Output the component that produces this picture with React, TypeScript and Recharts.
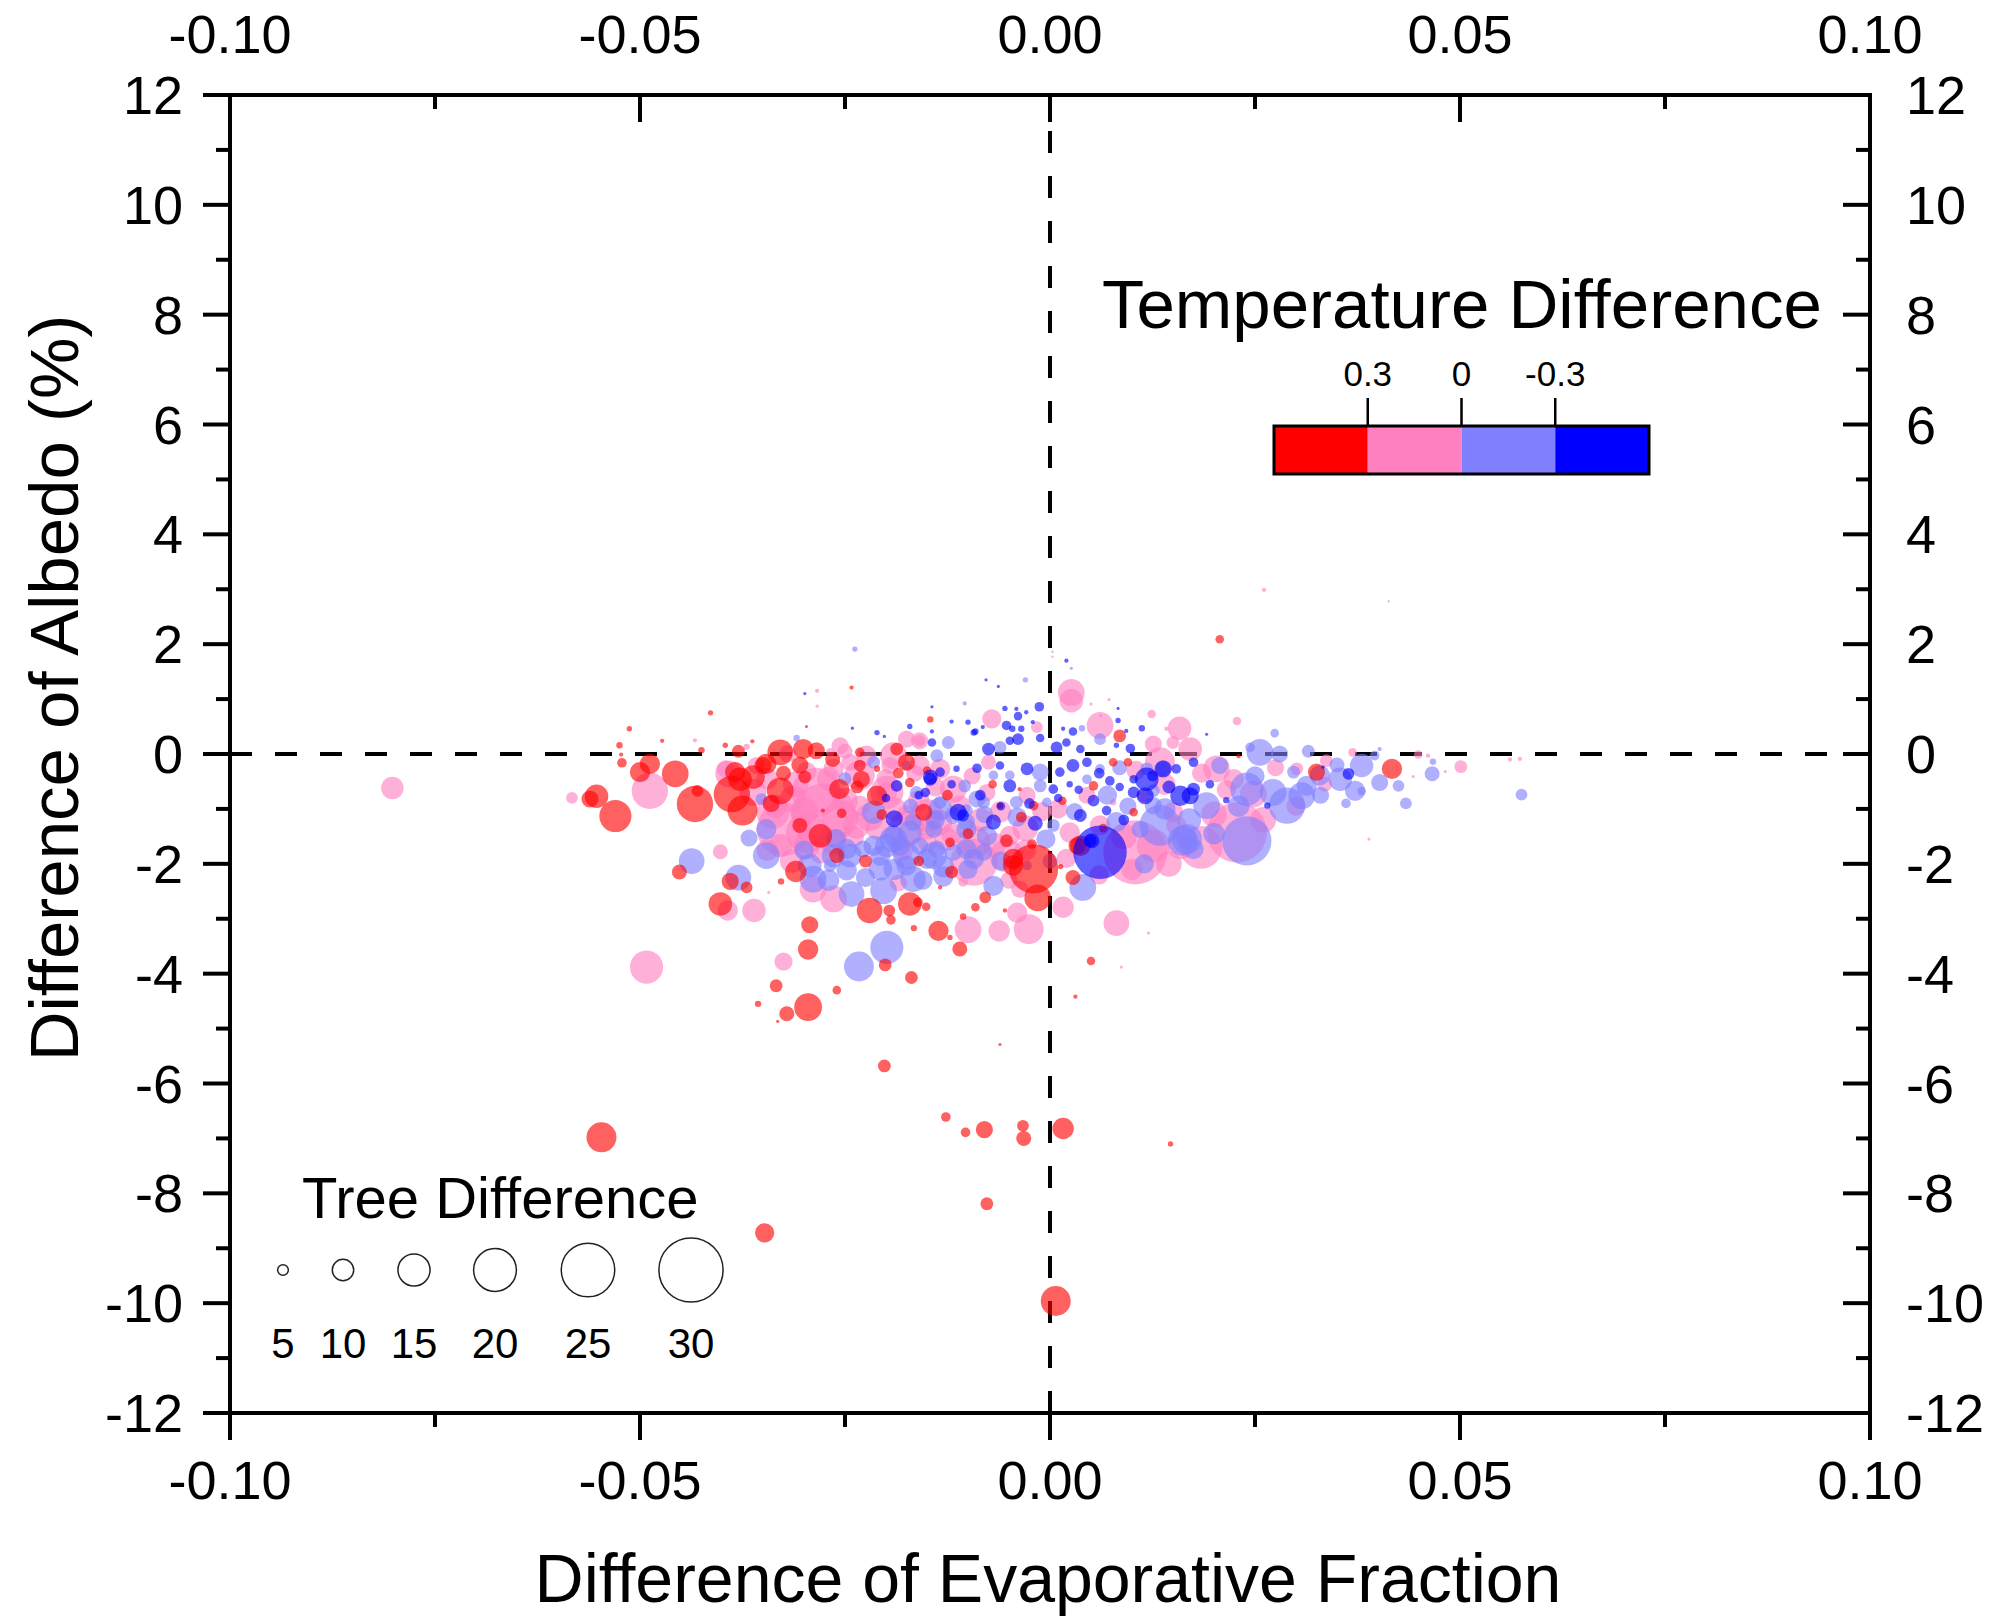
import React from 'react';
import { ScatterChart, Scatter, XAxis, YAxis, ReferenceLine } from 'recharts';

type Pt = { ef: number; albedo: number; tree: number };
const p = (ef: number, albedo: number, tree: number): Pt => ({ ef, albedo, tree });

// axis ticks (every other one carries a label)
const xTicks = [-0.1, -0.075, -0.05, -0.025, 0, 0.025, 0.05, 0.075, 0.1];
const yTicks = [-12, -11, -10, -9, -8, -7, -6, -5, -4, -3, -2, -1, 0, 1, 2, 3, 4, 5, 6, 7, 8, 9, 10, 11, 12];

// legends
const treeLegend = [5, 10, 15, 20, 25, 30];
const tempBreaks = ['0.3', '0', '-0.3'];
const tempColors = ['#ff0000', '#ff80c0', '#8080ff', '#0000ff'];

// temperature difference > 0.3
const redPoints: Pt[] = [
  p(-0.0242, 1.21, 2), p(-0.0414, 0.75, 2.5), p(-0.0513, 0.46, 2.5), p(-0.0297, 0.5, 1.5),
  p(-0.0473, 0.24, 2), p(-0.0525, 0.16, 3), p(-0.0523, -0.01, 2), p(-0.0522, -0.16, 4.5),
  p(-0.0425, 0.07, 3), p(-0.0363, 0.23, 2), p(-0.0396, 0.16, 2.5), p(-0.0488, -0.18, 9.5),
  p(-0.05, -0.33, 9.5), p(-0.0457, -0.36, 12.5), p(-0.0553, -0.77, 11), p(-0.0561, -0.82, 8),
  p(-0.053, -1.13, 15), p(-0.0433, -0.91, 17), p(-0.043, -0.67, 5.5), p(-0.0388, -0.73, 17),
  p(-0.0378, -0.46, 11), p(-0.0375, -1.03, 14), p(-0.0329, -0.67, 12.5), p(-0.0329, 0.03, 12),
  p(-0.0301, 0.09, 9.5), p(-0.0285, 0.06, 8), p(-0.0346, -0.18, 9.5), p(-0.0257, -0.64, 9.5),
  p(-0.023, -0.46, 8), p(-0.0211, -0.76, 9.5), p(-0.0254, -1.08, 4.5), p(-0.0277, -1.03, 2),
  p(-0.0305, -1.3, 7), p(-0.0452, -2.15, 7), p(-0.039, -2.32, 8), p(-0.037, -2.43, 5.5),
  p(-0.031, -2.14, 10), p(-0.022, -2.85, 12), p(-0.0196, -2.85, 5.5), p(-0.0194, -3.02, 4.5),
  p(-0.0171, -2.73, 11), p(-0.0161, -2.7, 4.5), p(-0.0151, -2.78, 4), p(-0.0091, -2.79, 4),
  p(-0.0079, -2.61, 5.5), p(-0.0045, -2.03, 9.5), p(-0.002, -2.09, 23), p(-0.0015, -2.62, 12.5),
  p(-0.0136, -3.22, 9.5), p(-0.0122, -3.34, 2.5), p(-0.011, -3.55, 7), p(-0.0166, -3.17, 3),
  p(-0.0055, -2.85, 2), p(-0.0106, -2.96, 3), p(-0.0402, -2.73, 11), p(-0.0328, -2.32, 3),
  p(-0.0134, -2.43, 2), p(-0.0293, -3.11, 8), p(-0.0295, -3.56, 9.5), p(-0.0201, -3.84, 6),
  p(-0.0334, -4.22, 6), p(-0.026, -4.3, 4), p(-0.0169, -4.07, 6), p(-0.0356, -4.55, 3),
  p(-0.0295, -4.61, 13), p(-0.0321, -4.73, 7), p(-0.0187, 0.09, 6), p(-0.0232, 0.03, 4.5),
  p(0.0207, 2.09, 4), p(0.023, -0.04, 2), p(0.0325, -0.33, 8), p(0.0417, -0.27, 9.5),
  p(0.0037, -1.67, 9.5), p(0.0028, -2.25, 7), p(0.0013, -2.05, 2.5), p(0.005, -3.77, 4),
  p(0.0031, -4.42, 2), p(-0.0146, 0.63, 3), p(0.0085, 0.33, 6), p(-0.0175, -0.15, 8),
  p(0.0077, -0.15, 4), p(-0.0037, -0.64, 2), p(0.0053, -0.58, 4.5), p(-0.0154, -1.06, 8),
  p(-0.0061, -0.94, 3), p(-0.002, -0.94, 4.5), p(0.0102, -1.06, 4), p(-0.0122, -1.61, 4.5),
  p(-0.0053, -1.58, 6), p(-0.0045, -1.91, 9.5), p(-0.0022, -1.64, 4.5), p(0.0033, -1.67, 8),
  p(-0.028, -1.49, 11), p(-0.0299, -0.42, 6), p(-0.0232, -0.21, 5.5), p(-0.0211, -0.27, 3),
  p(-0.0171, -0.52, 4.5), p(-0.0362, -0.42, 11), p(-0.0384, -0.33, 9.5), p(-0.035, -0.21, 8),
  p(-0.034, -0.9, 8), p(-0.0305, -0.2, 8), p(-0.0265, -0.1, 7), p(-0.0235, -0.6, 6),
  p(-0.0205, -1.1, 5), p(-0.0185, -0.35, 5), p(-0.015, -0.3, 4), p(-0.0125, -0.75, 5),
  p(-0.01, -1.45, 5), p(-0.007, -0.55, 4), p(-0.0035, -1.15, 5), p(-0.026, -1.85, 7),
  p(-0.0225, -1.95, 6), p(-0.016, -1.95, 5), p(-0.012, -2.15, 6), p(0.0015, -0.85, 4),
  p(0.0065, -1.35, 4), p(0.0095, -0.15, 4), p(-0.038, 0.05, 6), p(-0.0325, -0.35, 7),
  p(-0.0547, -6.98, 14), p(-0.0348, -8.72, 9), p(0.0007, -9.96, 14), p(-0.0127, -6.61, 4.5),
  p(-0.0103, -6.89, 4.5), p(-0.008, -6.84, 8), p(-0.0033, -6.77, 5.5), p(-0.0032, -7.0, 7),
  p(0.0016, -6.82, 10), p(0.0147, -7.1, 2.5), p(-0.0077, -8.19, 6), p(-0.0202, -5.68, 6),
  p(-0.0061, -5.29, 1.5), p(-0.0332, -4.87, 1.5),
];

// 0 .. 0.3
const pinkPoints: Pt[] = [
  p(-0.0284, 1.15, 2), p(-0.0284, 0.87, 1.5), p(-0.0433, 0.25, 2), p(-0.037, 0.13, 3),
  p(-0.0488, -0.67, 17), p(-0.0583, -0.8, 5.5), p(-0.0392, -0.36, 12.5), p(-0.0362, -0.7, 12.5),
  p(-0.0276, -1.12, 30), p(-0.0325, -1.37, 25), p(-0.0402, -1.78, 7), p(-0.0264, -2.64, 12.5),
  p(-0.0289, -2.46, 12.5), p(-0.0106, -2.33, 4.5), p(-0.0093, -1.97, 22), p(-0.004, -2.89, 9.5),
  p(-0.0026, -3.19, 14), p(-0.0062, -3.22, 10), p(-0.01, -3.2, 12.5), p(-0.0393, -2.85, 9.5),
  p(-0.0361, -2.85, 11), p(-0.0343, -2.52, 1.5), p(-0.0325, -3.78, 8.5), p(-0.0492, -3.88, 15.5),
  p(-0.0236, -1.3, 12.5), p(-0.0199, -0.7, 9.5), p(-0.0232, -0.94, 9.5), p(-0.0195, -0.21, 8),
  p(-0.0244, -0.15, 8), p(-0.0264, -0.27, 9.5), p(-0.0297, -0.33, 9.5), p(-0.0313, -0.82, 12.5),
  p(-0.0297, -1.67, 12.5), p(-0.0338, -1.06, 15.5), p(-0.0358, -0.21, 8), p(-0.0396, -0.27, 8),
  p(-0.0329, -1.67, 11), p(-0.0268, 0.03, 4),
  p(-0.0285, -0.7, 23), p(-0.0297, -1.43, 19), p(-0.0256, -1.18, 17), p(-0.0232, -0.39, 14),
  p(-0.0199, -0.7, 15.5), p(-0.0191, -0.03, 12.5), p(-0.0175, -1.37, 17), p(-0.015, -1.12, 15.5),
  p(-0.0118, -0.64, 12.5), p(-0.0134, -0.27, 9.5), p(-0.0093, -1.61, 15.5), p(-0.0053, -1.85, 15.5),
  p(-0.0224, -0.03, 9.5), p(-0.0256, 0.15, 8), p(-0.0175, 0.27, 8), p(-0.0159, 0.24, 5.5),
  p(-0.0037, -2.46, 8),
  p(-0.0345, -0.45, 10), p(-0.031, -0.55, 12), p(-0.027, -0.45, 11), p(-0.025, -0.85, 12),
  p(-0.022, -1.15, 13), p(-0.019, -1.0, 11), p(-0.016, -0.85, 10), p(-0.0135, -1.25, 12),
  p(-0.011, -0.95, 10), p(-0.0085, -1.2, 11), p(-0.006, -1.05, 10), p(-0.003, -1.35, 12),
  p(-0.001, -1.05, 9), p(-0.0335, -0.95, 11), p(-0.03, -1.05, 13), p(-0.0265, -1.6, 12),
  p(-0.024, -1.5, 10), p(-0.021, -1.35, 11), p(-0.018, -1.75, 10), p(-0.015, -1.6, 9),
  p(-0.012, -1.45, 10), p(-0.0068, -1.65, 11), p(-0.003, -1.75, 10), p(-0.0345, -1.75, 10),
  p(-0.0315, -1.95, 11), p(-0.028, -1.8, 10), p(-0.032, 0.0, 8), p(-0.025, 0.05, 7),
  p(-0.02, -0.45, 9), p(-0.0165, -0.35, 8), p(-0.014, -0.6, 9), p(-0.0095, -0.4, 8),
  p(-0.0075, -0.15, 7), p(-0.0028, -0.75, 8), p(0.001, -1.0, 9), p(0.0045, -0.75, 8),
  p(0.009, -1.5, 12), p(0.0105, -0.3, 9), p(0.014, -0.55, 10), p(0.0185, -0.35, 9),
  p(0.02, -1.1, 12), p(0.0215, -0.65, 9), p(0.026, -1.2, 12), p(0.0275, -0.25, 8),
  p(0.03, -0.95, 9), p(0.0335, -0.55, 7), p(0.006, -2.2, 9), p(0.01, -2.1, 10),
  p(0.0145, -2.0, 12), p(0.002, -1.9, 9), p(-0.005, -2.3, 8), p(-0.0185, -2.35, 8),
  p(0.0003, 1.77, 1.2), p(0.0228, 0.6, 4), p(0.0337, -0.12, 6), p(0.0369, 0.03, 4),
  p(0.0449, -0.01, 4), p(0.0461, -0.03, 2), p(0.0501, -0.23, 6), p(0.0482, -0.32, 1.5),
  p(0.0443, -0.41, 1.5), p(0.0561, -0.1, 2), p(0.0573, -0.09, 2), p(0.0389, -1.55, 1.5),
  p(0.0228, -1.43, 28), p(0.0184, -1.7, 20), p(0.0104, -1.79, 30), p(0.0016, -2.79, 10),
  p(0.0081, -3.08, 12), p(0.012, -3.26, 1.5), p(0.0087, -3.88, 1.5), p(0.0248, -0.73, 12.5),
  p(0.0224, -0.46, 9.5), p(0.0134, -0.15, 14), p(0.0171, 0.09, 11), p(0.0203, -0.27, 12.5),
  p(0.0301, -0.27, 6),
  p(0.0026, 1.12, 12.5), p(0.0026, 0.97, 11), p(-0.0071, 0.64, 9), p(-0.0016, 0.49, 5.5),
  p(0.0061, 0.52, 12.5), p(0.0124, 0.73, 4), p(0.0158, 0.47, 11), p(0.0142, 0.46, 2),
  p(0.0072, 0.99, 1.5), p(0.005, 0.91, 1.5), p(0.0062, 0.7, 1.5), p(-0.0159, 0.24, 8),
  p(0.0126, 0.18, 8), p(0.015, 0.21, 6), p(-0.0159, -0.21, 9.5), p(-0.0077, -0.7, 8),
  p(0.0114, -0.76, 6), p(-0.0175, -1.12, 9.5), p(0.0077, -0.88, 3), p(0.015, -1.06, 9.5),
  p(-0.015, -1.37, 9.5), p(-0.0126, -1.55, 11), p(-0.0049, -1.49, 9.5), p(0.0024, -1.43, 9.5),
  p(0.0061, -1.3, 9.5), p(0.0154, -1.3, 9.5), p(0.0126, -1.67, 15.5), p(0.0159, -1.67, 12.5),
  p(-0.0802, -0.62, 10.5), p(0.0261, 2.99, 2),
];

// -0.3 .. 0
const lightBluePoints: Pt[] = [
  p(-0.0238, 1.91, 2.5), p(-0.0309, 0.29, 3), p(-0.0367, -1.53, 8), p(-0.0346, -1.37, 9.5),
  p(-0.0352, -0.82, 5.5), p(-0.0437, -1.95, 12), p(-0.038, -2.25, 12), p(-0.0346, -1.85, 12.5),
  p(-0.0289, -2.28, 12.5), p(-0.0261, -1.55, 9.5), p(-0.0244, -1.85, 11), p(-0.0215, -1.67, 9.5),
  p(-0.0191, -1.55, 12.5), p(-0.013, -2.23, 9.5), p(-0.0167, -2.28, 12), p(-0.0203, -2.49, 12.5),
  p(-0.0242, -2.55, 12), p(-0.0199, -3.52, 15.5), p(-0.0233, -3.87, 14), p(-0.0215, -1.06, 11),
  p(-0.0215, -0.15, 6), p(-0.0264, -1.85, 11), p(-0.0207, -1.85, 9.5),
  p(-0.0293, -2.03, 11), p(-0.0248, -1.73, 9.5), p(-0.0228, -1.73, 8), p(-0.0199, -1.67, 11),
  p(-0.0183, -1.67, 9.5), p(-0.0159, -1.67, 8), p(-0.0138, -1.73, 8), p(-0.0118, -1.79, 8),
  p(-0.0175, -2.03, 9.5), p(-0.0207, -2.09, 11), p(-0.0248, -2.12, 9.5), p(-0.0268, -2.03, 6),
  p(-0.015, -1.91, 9.5), p(-0.0093, -1.91, 9.5), p(-0.0102, -1.24, 8), p(-0.0118, -1.12, 8),
  p(-0.0134, -0.88, 6), p(-0.0089, -0.82, 8), p(-0.0077, -1.49, 9.5), p(-0.0142, -1.37, 8),
  p(-0.0167, -1.24, 8), p(-0.0191, -1.49, 9.5), p(-0.0069, -0.39, 4.5), p(-0.0138, -0.03, 6),
  p(-0.0175, -0.21, 4.5), p(-0.0069, -2.4, 9.5),
  p(-0.03, -1.75, 9), p(-0.027, -2.3, 10), p(-0.0225, -2.25, 9), p(-0.019, -2.1, 10),
  p(-0.0155, -2.3, 9), p(-0.013, -2.05, 10), p(-0.01, -2.1, 9), p(-0.006, -1.95, 9),
  p(-0.014, -1.2, 9), p(-0.008, -1.1, 8), p(-0.004, -1.15, 9), p(-0.0005, -1.55, 9),
  p(0.003, -1.05, 8), p(0.007, -0.75, 9), p(0.0095, -0.95, 8), p(0.0085, -0.25, 7),
  p(0.014, -1.0, 10), p(0.017, -1.2, 11), p(0.02, -1.45, 10), p(0.023, -0.95, 10),
  p(0.025, -0.4, 9), p(0.033, -0.75, 8), p(0.035, -0.2, 7), p(0.0315, 0.05, 6),
  p(-0.025, -0.45, 6), p(-0.017, -0.95, 7), p(0.0, -1.95, 7), p(0.0115, -2.0, 9),
  p(0.0003, 1.86, 1), p(0.0274, 0.38, 4), p(0.0256, 0.03, 12.5), p(0.0244, 0.12, 4.5),
  p(0.028, 0.0, 8), p(0.0396, -0.03, 4.5), p(0.0402, 0.09, 2), p(0.038, -0.21, 11),
  p(0.0354, -0.46, 11), p(0.0372, -0.67, 9.5), p(0.038, -0.68, 4), p(0.0361, -0.9, 4.5),
  p(0.0402, -0.52, 8), p(0.0425, -0.58, 5.5), p(0.0434, -0.9, 5.5), p(0.0467, -0.14, 3),
  p(0.0466, -0.36, 7), p(0.0575, -0.74, 5.5), p(0.024, -1.58, 23), p(0.0162, -1.58, 14),
  p(0.0191, -0.94, 12.5), p(0.004, -2.43, 12.5), p(0.0289, -0.94, 17), p(0.0272, -0.7, 12.5),
  p(0.0307, -0.76, 12.5), p(0.0207, -0.21, 8), p(0.0297, -0.33, 6), p(0.0313, -0.58, 9.5),
  p(0.024, -0.64, 15.5), p(0.0134, -1.3, 19), p(0.0329, -0.39, 9.5), p(0.0167, -1.55, 14),
  p(0.0026, 1.56, 1.5), p(-0.003, 1.35, 2.5), p(-0.0104, 0.92, 2), p(0.0039, 0.47, 3),
  p(-0.0124, 0.21, 6), p(-0.0061, 0.12, 6), p(0.0061, 0.27, 5.5), p(-0.0049, -0.39, 4.5),
  p(-0.0012, -0.33, 8), p(0.0061, -0.27, 4.5), p(0.0118, -0.27, 6), p(0.0138, -0.27, 7),
  p(-0.0163, -0.7, 6), p(-0.0104, -0.58, 6), p(-0.0012, -0.58, 6), p(0.0045, -0.46, 4.5),
  p(0.0126, -0.67, 6), p(-0.0134, -1.0, 11), p(-0.0102, -1.03, 6), p(-0.0081, -0.88, 6),
  p(-0.0041, -0.88, 6), p(-0.0004, -0.88, 4.5), p(0.0126, -0.94, 8), p(-0.0171, -1.43, 11),
  p(-0.0102, -1.37, 9.5), p(0.0004, -1.3, 6), p(0.0081, -1.24, 9.5), p(0.011, -1.37, 8),
  p(0.0167, -1.55, 9.5), p(-0.0175, -1.85, 12.5), p(-0.0142, -1.85, 12.5), p(-0.0102, -1.73, 9.5),
  p(-0.0081, -1.79, 8), p(-0.0028, -2.03, 4.5), p(0.0175, -1.73, 9.5), p(0.0413, 2.78, 1),
];

// < -0.3
const bluePoints: Pt[] = [
  p(-0.0299, 1.1, 1.5), p(-0.0241, 0.47, 1.5), p(-0.019, -1.18, 8), p(-0.0211, 0.39, 2.5),
  p(-0.0202, 0.32, 1.5), p(0.0191, 0.36, 1.5), p(0.0333, -0.24, 1.5), p(0.0364, -0.36, 5.5),
  p(0.0061, -1.79, 25), p(0.0051, -1.58, 7), p(0.0215, -0.84, 3), p(0.0265, -0.94, 3),
  p(-0.0187, -0.58, 5.5), p(-0.0146, -0.42, 7), p(-0.0106, -1.12, 5.5), p(-0.0093, 0.39, 3),
  p(0.0118, -0.46, 11), p(0.0116, -0.76, 8), p(0.0138, -0.27, 8),
  p(-0.012, -0.55, 4), p(-0.0085, -0.75, 5), p(-0.006, -0.95, 4), p(-0.0025, -0.9, 5),
  p(0.001, -0.8, 4), p(0.0035, -0.65, 4), p(0.006, -0.35, 5), p(0.0085, -0.6, 4),
  p(0.0125, -0.4, 5), p(0.0145, -0.6, 6), p(0.0195, -0.55, 4), p(-0.016, -0.75, 4),
  p(-0.02, -0.8, 4), p(0.009, -1.2, 5),
  p(0.002, 1.7, 2), p(-0.0078, 1.35, 1.5), p(-0.0063, 1.23, 1.5), p(-0.0013, 0.86, 4.5),
  p(-0.0055, 0.83, 2.5), p(-0.0029, 0.76, 2), p(-0.0039, 0.69, 4), p(-0.0041, 0.82, 2),
  p(-0.0144, 0.86, 1.5), p(-0.012, 0.59, 2), p(-0.01, 0.58, 2.5), p(-0.0171, 0.5, 2.5),
  p(-0.0144, 0.41, 2), p(-0.0091, 0.41, 3), p(-0.0082, 0.49, 2), p(-0.0053, 0.52, 4.5),
  p(-0.0046, 0.46, 3), p(-0.0035, 0.46, 3), p(-0.0021, 0.58, 2), p(0.0016, 0.46, 2),
  p(0.0028, 0.41, 4), p(0.0093, 0.42, 2), p(0.0112, 0.47, 3), p(0.0083, 0.83, 1.5),
  p(0.0083, 0.61, 2.5), p(-0.0144, 0.21, 4), p(-0.0075, 0.09, 6), p(-0.0049, 0.24, 4),
  p(-0.0039, 0.27, 5.5), p(-0.0012, 0.29, 4), p(0.0008, 0.12, 5.5), p(0.002, 0.21, 4),
  p(0.0037, 0.09, 4), p(0.0081, 0.16, 2.5), p(0.0098, 0.1, 4.5), p(-0.0134, -0.33, 4.5),
  p(-0.0114, -0.27, 3), p(-0.0089, -0.26, 4.5), p(-0.0061, -0.21, 4), p(-0.0028, -0.27, 6),
  p(0.0012, -0.33, 4.5), p(0.0028, -0.21, 6), p(0.0045, -0.15, 4.5), p(0.0102, -0.46, 4),
  p(0.0154, -0.27, 4.5), p(0.0175, -0.15, 4.5), p(-0.0146, -0.46, 6), p(-0.0152, -0.7, 4.5),
  p(-0.0049, -0.58, 6), p(0.0004, -0.64, 4.5), p(0.0024, -0.55, 3), p(0.0073, -0.49, 4.5),
  p(0.0102, -0.7, 5.5), p(0.0159, -0.76, 9.5), p(0.0175, -0.64, 6), p(-0.0112, -1.06, 8),
  p(0.0037, -1.12, 6), p(0.0053, -0.85, 5.5), p(0.0069, -1.03, 4.5), p(0.0171, -0.76, 8),
  p(-0.0069, -1.24, 7), p(-0.0018, -1.26, 7), p(0.0049, -1.58, 6),
];

const W = 1995;
const H = 1619;
const FONT = '"Liberation Sans", Arial, Helvetica, sans-serif';
const MAJOR = 27;
const MINOR = 14;
const TICK_FS = 54;

const bubbleRadius = (tree: number) => tree * 1.07;

const isMajorX = (v: number) => Math.abs(v * 20 - Math.round(v * 20)) < 1e-6;
const isMajorY = (v: number) => Math.abs(v) % 2 === 0;

function Bubble(props: any) {
  const { cx, cy, payload, fill } = props;
  if (cx == null || cy == null) return null;
  return <circle cx={cx} cy={cy} r={bubbleRadius(payload.tree)} fill={fill} fillOpacity={0.62} />;
}

function BottomTick({ x, y, payload }: any) {
  const major = isMajorX(payload.value);
  return (
    <g>
      <line x1={x} y1={y} x2={x} y2={y + (major ? MAJOR : MINOR)} stroke="#000" strokeWidth={4} />
      {major && (
        <text x={x} y={y + 86} textAnchor="middle" fontSize={TICK_FS} fontFamily={FONT} fill="#000">
          {payload.value.toFixed(2)}
        </text>
      )}
    </g>
  );
}

function TopTick({ x, y, payload }: any) {
  const major = isMajorX(payload.value);
  return (
    <g>
      <line x1={x} y1={y} x2={x} y2={y + (major ? MAJOR : MINOR)} stroke="#000" strokeWidth={4} />
      {major && (
        <text x={x} y={y - 42} textAnchor="middle" fontSize={TICK_FS} fontFamily={FONT} fill="#000">
          {payload.value.toFixed(2)}
        </text>
      )}
    </g>
  );
}

function LeftTick({ x, y, payload }: any) {
  const major = isMajorY(payload.value);
  return (
    <g>
      <line x1={x} y1={y} x2={x - (major ? MAJOR : MINOR)} y2={y} stroke="#000" strokeWidth={4} />
      {major && (
        <text x={x - 47} y={y + 19} textAnchor="end" fontSize={TICK_FS} fontFamily={FONT} fill="#000">
          {payload.value}
        </text>
      )}
    </g>
  );
}

function RightTick({ x, y, payload }: any) {
  const major = isMajorY(payload.value);
  return (
    <g>
      <line x1={x} y1={y} x2={x - (major ? MAJOR : MINOR)} y2={y} stroke="#000" strokeWidth={4} />
      {major && (
        <text x={x + 36} y={y + 19} textAnchor="start" fontSize={TICK_FS} fontFamily={FONT} fill="#000">
          {payload.value}
        </text>
      )}
    </g>
  );
}

const axisLine = { stroke: '#000', strokeWidth: 4, strokeLinecap: 'square' as const };

function Overlay() {
  const barX = 1274;
  const barY = 426;
  const segW = 93.75;
  const barH = 48;
  const treeX = [283, 343, 414, 495, 588, 691];
  return (
    <svg width={W} height={H} style={{ position: 'absolute', left: 0, top: 0, pointerEvents: 'none' }}>
      <text transform="translate(78,688) rotate(-90)" textAnchor="middle" fontSize={69} fontFamily={FONT} fill="#000">
        Difference of Albedo (%)
      </text>
      <text x={1048} y={1602} textAnchor="middle" fontSize={68} fontFamily={FONT} fill="#000">
        Difference of Evaporative Fraction
      </text>

      <text x={1102} y={328} fontSize={69} fontFamily={FONT} fill="#000">Temperature Difference</text>
      {tempColors.map((c, i) => (
        <rect key={c} x={barX + i * segW} y={barY} width={segW} height={barH} fill={c} />
      ))}
      <rect x={barX} y={barY} width={segW * 4} height={barH} fill="none" stroke="#000" strokeWidth={3} />
      {tempBreaks.map((t, i) => (
        <g key={t}>
          <line x1={barX + (i + 1) * segW} y1={barY - 28} x2={barX + (i + 1) * segW} y2={barY} stroke="#000" strokeWidth={2.5} />
          <text x={barX + (i + 1) * segW} y={386} textAnchor="middle" fontSize={35} fontFamily={FONT} fill="#000">{t}</text>
        </g>
      ))}

      <text x={302} y={1218} fontSize={58} fontFamily={FONT} fill="#000">Tree Difference</text>
      {treeLegend.map((t, i) => (
        <g key={t}>
          <circle cx={treeX[i]} cy={1270} r={bubbleRadius(t)} fill="none" stroke="#222" strokeWidth={1.5} />
          <text x={treeX[i]} y={1358} textAnchor="middle" fontSize={42} fontFamily={FONT} fill="#000">{t}</text>
        </g>
      ))}
    </svg>
  );
}

export default function App() {
  return (
    <div style={{ position: 'absolute', left: 0, top: 0, width: W, height: H, background: '#fff' }}>
      <ScatterChart width={W} height={H} margin={{ top: 0, right: 0, bottom: 0, left: 0 }}>
        <XAxis
          xAxisId="bottom" dataKey="ef" type="number" orientation="bottom" height={206}
          domain={[-0.1, 0.1]} ticks={xTicks} interval={0} allowDataOverflow
          tickSize={0} tickMargin={0} tickLine={false} axisLine={axisLine} tick={<BottomTick />}
        />
        <XAxis
          xAxisId="top" dataKey="ef" type="number" orientation="top" height={95}
          domain={[-0.1, 0.1]} ticks={xTicks} interval={0} allowDataOverflow
          tickSize={0} tickMargin={0} tickLine={false} axisLine={axisLine} tick={<TopTick />}
        />
        <YAxis
          yAxisId="left" dataKey="albedo" type="number" orientation="left" width={230}
          domain={[-12, 12]} ticks={yTicks} interval={0} allowDataOverflow
          tickSize={0} tickMargin={0} tickLine={false} axisLine={axisLine} tick={<LeftTick />}
        />
        <YAxis
          yAxisId="right" dataKey="albedo" type="number" orientation="right" width={125}
          domain={[-12, 12]} ticks={yTicks} interval={0} allowDataOverflow
          tickSize={0} tickMargin={0} tickLine={false} axisLine={axisLine} tick={<RightTick />}
        />
        <Scatter xAxisId="bottom" yAxisId="left" data={pinkPoints} fill={tempColors[1]} shape={Bubble} isAnimationActive={false} />
        <Scatter xAxisId="bottom" yAxisId="left" data={lightBluePoints} fill={tempColors[2]} shape={Bubble} isAnimationActive={false} />
        <Scatter xAxisId="bottom" yAxisId="left" data={redPoints} fill={tempColors[0]} shape={Bubble} isAnimationActive={false} />
        <Scatter xAxisId="bottom" yAxisId="left" data={bluePoints} fill={tempColors[3]} shape={Bubble} isAnimationActive={false} />
        <ReferenceLine xAxisId="bottom" yAxisId="left" x={0} stroke="#000" strokeWidth={4} strokeDasharray="22 23" />
        <ReferenceLine xAxisId="bottom" yAxisId="left" y={0} stroke="#000" strokeWidth={4} strokeDasharray="22 23" />
      </ScatterChart>
      <Overlay />
    </div>
  );
}
